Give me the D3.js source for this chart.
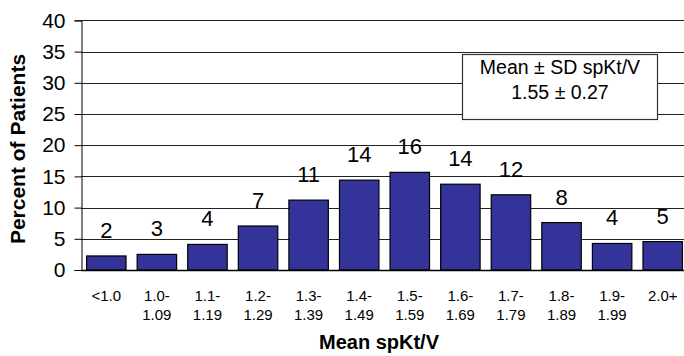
<!DOCTYPE html>
<head>
  <meta charset="utf-8">
  <title>Mean spKt/V distribution</title>
  <style>
    body { margin: 0; background: #fff; }
    text { font-family: "Liberation Sans", Arial, sans-serif; fill: #000; }
  </style>
</head>
<body>
  <script src="https://cdn.jsdelivr.net/npm/d3@7"></script>
  <script>
    // data
    var bins = ["<1.0", "1.0-|1.09", "1.1-|1.19", "1.2-|1.29", "1.3-|1.39", "1.4-|1.49",
                "1.5-|1.59", "1.6-|1.69", "1.7-|1.79", "1.8-|1.89", "1.9-|1.99", "2.0+"];
    var percents = [2.25, 2.5, 4.1, 7.05, 11.2, 14.4, 15.65, 13.75, 12.05, 7.6, 4.25, 4.55];
    var labels = ["2", "3", "4", "7", "11", "14", "16", "14", "12", "8", "4", "5"];
    var yTicks = [0, 5, 10, 15, 20, 25, 30, 35, 40];

    var w = 684, h = 356;
    var plotLeft = 81, plotRight = 688, plotTop = 20.4, plotBottom = 270;

    var svg = d3.select("body").append("svg").attr("width", w).attr("height", h);

    var x = d3.scaleBand().domain(bins).range([plotLeft, plotRight])
      .paddingInner(0.22).paddingOuter(0.11);
    var y = d3.scaleLinear().domain([0, 40]).range([plotBottom, plotTop]);

    // gridlines
    svg.append("g").selectAll("line")
      .data(yTicks.filter(function(d) { return d > 0; }))
      .enter().append("line")
      .attr("x1", plotLeft).attr("x2", w)
      .attr("y1", function(d) { return Math.round(y(d)) + 0.5; })
      .attr("y2", function(d) { return Math.round(y(d)) + 0.5; })
      .attr("stroke", "#222").attr("stroke-width", 1);

    // bars
    svg.append("g").selectAll("rect")
      .data(bins)
      .enter().append("rect")
      .attr("x", function(d) { return x(d); })
      .attr("y", function(d, i) { return y(percents[i]); })
      .attr("width", x.bandwidth())
      .attr("height", function(d, i) { return plotBottom - y(percents[i]); })
      .attr("fill", "#333399")
      .attr("stroke", "#000").attr("stroke-width", 1.2);

    // value labels
    svg.append("g").selectAll("text")
      .data(bins)
      .enter().append("text")
      .attr("x", function(d) { return x(d) + x.bandwidth() / 2; })
      .attr("y", function(d, i) { return y(percents[i]) - 18; })
      .attr("text-anchor", "middle")
      .style("font-size", "22px")
      .text(function(d, i) { return labels[i]; });

    // y axis
    var yAxis = d3.axisLeft(y).tickValues(yTicks).tickSize(7).tickPadding(9);
    var gy = svg.append("g").attr("transform", "translate(" + (plotLeft + 0.5) + ",0)").call(yAxis);
    gy.select(".domain").attr("stroke", "#000");
    gy.selectAll(".tick line").attr("stroke", "#000");
    gy.selectAll(".tick text").style("font-size", "21px")
      .style("font-family", "'Liberation Sans', Arial, sans-serif").attr("fill", "#000");

    // x axis baseline
    svg.append("line")
      .attr("x1", plotLeft).attr("x2", w)
      .attr("y1", plotBottom + 0.5).attr("y2", plotBottom + 0.5)
      .attr("stroke", "#000").attr("stroke-width", 1.5);

    // x tick labels (two lines)
    var xl = svg.append("g").selectAll("text")
      .data(bins)
      .enter().append("text")
      .attr("text-anchor", "middle")
      .style("font-size", "15px");
    xl.each(function(d) {
      var parts = d.split("|");
      var t = d3.select(this);
      var cx = x(d) + x.bandwidth() / 2;
      parts.forEach(function(p, k) {
        t.append("tspan").attr("x", cx).attr("y", 301 + k * 18.6).text(p);
      });
    });

    // axis titles
    svg.append("text")
      .attr("x", 379).attr("y", 349)
      .attr("text-anchor", "middle")
      .style("font-size", "20px").style("font-weight", "bold")
      .text("Mean spKt/V");

    svg.append("text")
      .attr("transform", "translate(25,149) rotate(-90)")
      .attr("text-anchor", "middle")
      .style("font-size", "21px").style("font-weight", "bold")
      .text("Percent of Patients");

    // stats box
    svg.append("rect")
      .attr("x", 462.5).attr("y", 54.5).attr("width", 195).attr("height", 65)
      .attr("fill", "#fff").attr("stroke", "#333").attr("stroke-width", 1.2);
    svg.append("text").attr("x", 560).attr("y", 73.5).attr("text-anchor", "middle")
      .style("font-size", "19.5px").text("Mean ± SD spKt/V");
    svg.append("text").attr("x", 560).attr("y", 98.5).attr("text-anchor", "middle")
      .style("font-size", "19.5px").text("1.55 ± 0.27");
  </script>
</body>
